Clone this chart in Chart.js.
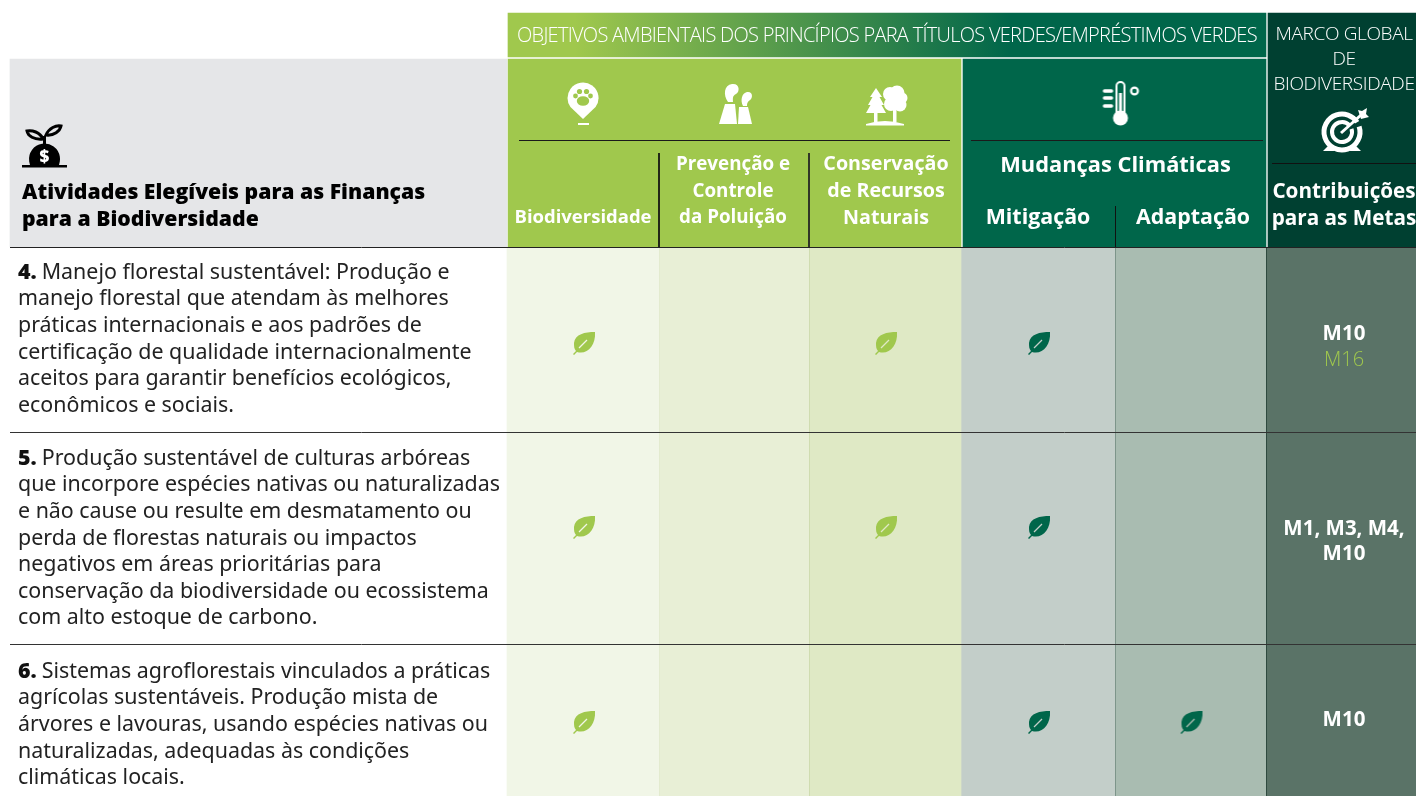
<!DOCTYPE html>
<html>
<head>
<meta charset="utf-8">
<title>Atividades Elegíveis</title>
<script src="https://cdn.jsdelivr.net/npm/chart.js@4"></script>
<style>
  body { margin: 0; background: #fff; }
  canvas { display: block; }
</style>
</head>
<body>
<canvas id="chart1" width="1416" height="796"></canvas>
<script>
// table content
const bandTitle = 'OBJETIVOS AMBIENTAIS DOS PRINCÍPIOS PARA TÍTULOS VERDES/EMPRÉSTIMOS VERDES';
const gbfTitle = ['MARCO GLOBAL', 'DE', 'BIODIVERSIDADE'];
const mainTitle = ['Atividades Elegíveis para as Finanças', 'para a Biodiversidade'];
const columnTitles = [
  ['Biodiversidade'],
  ['Prevenção e', 'Controle', 'da Poluição'],
  ['Conservação', 'de Recursos', 'Naturais'],
  ['Mitigação'],
  ['Adaptação']
];
const climateTitle = 'Mudanças Climáticas';
const goalsTitle = ['Contribuições', 'para as Metas'];
const rowNumbers = ['4.', '5.', '6.'];
const rowTexts = [
  ['Manejo florestal sustentável: Produção e',
   'manejo florestal que atendam às melhores',
   'práticas internacionais e aos padrões de',
   'certificação de qualidade internacionalmente',
   'aceitos para garantir benefícios ecológicos,',
   'econômicos e sociais.'],
  ['Produção sustentável de culturas arbóreas',
   'que incorpore espécies nativas ou naturalizadas',
   'e não cause ou resulte em desmatamento ou',
   'perda de florestas naturais ou impactos',
   'negativos em áreas prioritárias para',
   'conservação da biodiversidade ou ecossistema',
   'com alto estoque de carbono.'],
  ['Sistemas agroflorestais vinculados a práticas',
   'agrícolas sustentáveis. Produção mista de',
   'árvores e lavouras, usando espécies nativas ou',
   'naturalizadas, adequadas às condições',
   'climáticas locais.']
];
// 1 = leaf shown, one list per row, one entry per objective column
const leafMarks = [
  [1, 0, 1, 1, 0],
  [1, 0, 1, 1, 0],
  [1, 0, 0, 1, 1]
];
const goalsMain = [['M10'], ['M1, M3, M4,', 'M10'], ['M10']];
const goalsSecondary = [['M16'], [], []];

// layout of the grid, on the axes
const columnEdges = [507, 659, 809, 961, 1115, 1266, 1416];
const rowEdges = [248, 432, 644, 796];
const leafRowY = [343, 527, 722];
const rowTextTop = [272.5, 458.5, 671.5];
const LINE_H = 26.65;

// colours
const LIME = '#a0c84d', GREEN = '#00664a', DEEP = '#004031';
const bodyColors = ['#f1f6e7', '#e8efd6', '#dfe9c5', '#c3cec9', '#a9bcb1', '#5a7367'];
const leafColors = [LIME, LIME, LIME, GREEN, GREEN];

function makeIcon(w, h, draw) {
  const c = document.createElement('canvas');
  c.width = w; c.height = h;
  draw(c.getContext('2d'));
  return c;
}

function leafIcon(color) {
  return makeIcon(26, 26, g => {
    g.fillStyle = color;
    g.beginPath();
    g.moveTo(24, 2);
    g.bezierCurveTo(14, 2, 4, 4, 3, 13);
    g.bezierCurveTo(3, 16, 3, 19, 5, 21);
    g.lineTo(2, 24);
    g.lineTo(3, 25);
    g.lineTo(6, 22);
    g.bezierCurveTo(16, 25, 25, 16, 24, 2);
    g.fill();
    g.globalCompositeOperation = 'destination-out';
    g.lineWidth = 1.2;
    g.beginPath();
    g.moveTo(8, 18);
    g.lineTo(16, 10);
    g.stroke();
  });
}

const pawPin = makeIcon(36, 46, g => {
  g.fillStyle = '#fff';
  g.beginPath();
  g.arc(18, 17, 15.5, 0.2 * Math.PI, 0.8 * Math.PI, true);
  g.lineTo(18, 38);
  g.closePath();
  g.fill();
  g.fillRect(13, 42, 11, 2);
  g.fillStyle = LIME;
  [[10.5, 15, 2.4], [14.5, 10.5, 2.6], [21.5, 10.5, 2.6], [25.5, 15, 2.4]].forEach(p => {
    g.beginPath(); g.arc(p[0], p[1], p[2], 0, 7); g.fill();
  });
  g.beginPath(); g.ellipse(18, 20, 6.2, 4.8, 0, 0, 7); g.fill();
});

const towers = makeIcon(36, 44, g => {
  g.fillStyle = '#fff';
  const poly = pts => { g.beginPath(); pts.forEach((p, i) => i ? g.lineTo(p[0], p[1]) : g.moveTo(p[0], p[1])); g.closePath(); g.fill(); };
  poly([[2, 41], [8, 21], [18, 21], [20, 41]]);
  poly([[21, 41], [22, 24], [31, 24], [35, 41]]);
  g.beginPath();
  g.moveTo(11, 19); g.bezierCurveTo(6, 12, 7, 2, 15, 1);
  g.bezierCurveTo(23, 0, 23, 9, 19, 11); g.bezierCurveTo(15, 13, 16, 16, 16, 19);
  g.fill();
  g.beginPath();
  g.moveTo(26, 23); g.bezierCurveTo(23, 17, 25, 10, 30, 9);
  g.bezierCurveTo(36, 8, 36, 15, 33, 17); g.bezierCurveTo(30, 19, 30, 21, 30, 23);
  g.fill();
});

const trees = makeIcon(44, 42, g => {
  g.fillStyle = '#fff';
  const poly = pts => { g.beginPath(); pts.forEach((p, i) => i ? g.lineTo(p[0], p[1]) : g.moveTo(p[0], p[1])); g.closePath(); g.fill(); };
  poly([[12, 4], [18, 13], [15.5, 13], [20, 21], [17.5, 21], [22, 29], [2, 29], [6.5, 21], [4, 21], [8.5, 13], [6, 13]]);
  g.fillRect(10, 29, 3.5, 9);
  [[26, 10, 7], [33, 9, 7.5], [38, 14, 5.5], [36, 21, 6.5], [27, 20, 7]].forEach(p => {
    g.beginPath(); g.arc(p[0], p[1], p[2], 0, 7); g.fill();
  });
  g.fillRect(29, 24, 3.5, 14);
  g.beginPath();
  g.moveTo(2, 40); g.quadraticCurveTo(21, 34, 40, 40); g.lineTo(40, 41.5); g.lineTo(2, 41.5);
  g.fill();
});

const thermo = makeIcon(40, 48, g => {
  g.fillStyle = '#fff'; g.strokeStyle = '#fff';
  g.lineCap = 'round';
  g.lineWidth = 3.4;
  [10, 17, 25].forEach(y => { g.beginPath(); g.moveTo(4, y); g.lineTo(11, y); g.stroke(); });
  g.lineWidth = 2;
  g.beginPath();
  g.moveTo(16, 34); g.lineTo(16, 5); g.arc(20, 5, 4, Math.PI, 0); g.lineTo(24, 34);
  g.stroke();
  g.fillRect(18.5, 12, 3, 24);
  g.beginPath(); g.arc(20, 37, 7.5, 0, 7); g.fill();
  g.lineWidth = 2.2;
  g.beginPath(); g.arc(34, 10, 3.4, 0, 7); g.stroke();
});

const target = makeIcon(56, 52, g => {
  g.strokeStyle = '#fff'; g.fillStyle = '#fff';
  const cx = 27, cy = 28;
  g.lineWidth = 5;
  g.beginPath(); g.arc(cx, cy, 18, -0.1 * Math.PI, 1.85 * Math.PI - 0.1); g.stroke();
  g.lineWidth = 4;
  g.beginPath(); g.arc(cx, cy, 10, -0.1 * Math.PI, 1.8 * Math.PI - 0.1); g.stroke();
  g.lineWidth = 3;
  g.beginPath(); g.moveTo(cx - 1, cy + 1); g.lineTo(cx + 19, cy - 17); g.stroke();
  g.beginPath(); g.moveTo(cx + 16, cy - 22); g.lineTo(cx + 19, cy - 13); g.lineTo(cx + 27, cy - 15); g.lineTo(cx + 24, cy - 18); g.lineTo(cx + 25, cy - 24); g.lineTo(cx + 20, cy - 21); g.closePath(); g.fill();
  g.beginPath(); g.moveTo(13, 42); g.lineTo(20, 47); g.lineTo(8, 47); g.closePath(); g.fill();
  g.beginPath(); g.moveTo(41, 42); g.lineTo(34, 47); g.lineTo(46, 47); g.closePath(); g.fill();
});

const seedling = makeIcon(50, 48, g => {
  g.strokeStyle = '#000'; g.fillStyle = '#000';
  g.fillRect(2, 44, 45, 2.5);
  g.beginPath(); g.arc(24.5, 38, 15.5, Math.PI * 0.95, Math.PI * 0.05); g.lineTo(39, 44); g.lineTo(10, 44); g.fill();
  g.lineWidth = 3;
  g.beginPath(); g.moveTo(24.5, 27); g.lineTo(24.5, 15); g.stroke();
  g.beginPath(); g.moveTo(23, 18); g.bezierCurveTo(20, 11, 12, 9, 7, 10); g.bezierCurveTo(8, 15, 14, 19, 23, 18); g.closePath(); g.stroke();
  g.beginPath(); g.moveTo(26, 14); g.bezierCurveTo(29, 7, 36, 4, 41, 5); g.bezierCurveTo(40, 10, 34, 15, 26, 14); g.closePath(); g.stroke();
  g.fillStyle = '#fff';
  g.font = '800 17px "Open Sans"';
  g.textAlign = 'center'; g.textBaseline = 'middle';
  g.fillText('$', 24.5, 36);
});

// bar spanning two column edges, floating between two rows edges
function block(x0, x1, y0, y1, color) {
  return {
    type: 'bar', order: 3, grouped: false, borderWidth: 0,
    barThickness: x1 - x0, backgroundColor: color,
    data: [{ x: (x0 + x1) / 2, y: [y0, y1] }]
  };
}

function rule(x0, y0, x1, y1, color, width) {
  return {
    type: 'scatter', order: 2, showLine: true, pointRadius: 0,
    borderColor: color, borderWidth: width || 1,
    data: [{ x: x0, y: y0 }, { x: x1, y: y1 }]
  };
}

const bodyBlocks = bodyColors.map((color, c) =>
  block(columnEdges[c], columnEdges[c + 1], rowEdges[0], rowEdges[rowEdges.length - 1], color));

const leafPoints = [];
const leafStyles = [];
leafMarks.forEach((row, r) => row.forEach((on, c) => {
  if (!on) return;
  leafPoints.push({ x: (columnEdges[c] + columnEdges[c + 1]) / 2 + 1, y: leafRowY[r] });
  leafStyles.push(leafIcon(leafColors[c]));
}));

const iconPoints = [
  { x: 583, y: 104 }, { x: 735, y: 105 }, { x: 886, y: 105 },
  { x: 1120.5, y: 105 }, { x: 1343, y: 130 }, { x: 45, y: 145 }
];
const iconStyles = [pawPin, towers, trees, thermo, target, seedling];

const tableText = {
  id: 'tableText',
  afterDatasetsDraw(chart) {
    const g = chart.ctx, sx = chart.scales.x, sy = chart.scales.y;
    const put = (str, x, y, font, color, align, spacing) => {
      g.font = font;
      g.fillStyle = color;
      g.textAlign = align || 'center';
      g.textBaseline = 'middle';
      g.letterSpacing = (spacing || 0) + 'px';
      g.fillText(str, sx.getPixelForValue(x), sy.getPixelForValue(y));
    };
    const SANS = '"Open Sans"';
    const lightF = s => '300 ' + s + 'px ' + SANS;
    const boldF = s => '700 ' + s + 'px ' + SANS;
    const bodyF = '400 21.4px "Noto Sans"';

    put(bandTitle, 517, 36.5, lightF(20), '#fff', 'left', -0.72);
    gbfTitle.forEach((t, i) => put(t, 1344, 35 + i * 25, lightF(19), '#fff', 'center', -0.35));

    mainTitle.forEach((t, i) => put(t, 22, 193 + i * 27, '800 21.2px ' + SANS, '#000', 'left'));

    const colCenter = [583, 733, 886, 1038, 1193];
    const colSize = [18.5, 18.8, 19.7, 21.4, 21.4];
    const colBottom = 218;
    columnTitles.forEach((lines, c) => {
      lines.forEach((t, i) => put(t, colCenter[c], colBottom - (lines.length - 1 - i) * 26.7, boldF(colSize[c]), '#fff'));
    });
    put(climateTitle, 1115.5, 165.5, boldF(21.85), '#fff');
    goalsTitle.forEach((t, i) => put(t, 1344, 192.5 + i * 27, boldF(20.7), '#fff'));

    rowTexts.forEach((lines, r) => {
      lines.forEach((t, i) => {
        const y = rowTextTop[r] + i * LINE_H;
        if (i === 0) {
          put(rowNumbers[r], 18, y, '900 21.4px "Noto Sans"', '#111', 'left');
          const numW = g.measureText(rowNumbers[r]).width;
          put(t, 18 + numW + 5, y, bodyF, '#222', 'left');
        } else {
          put(t, 18, y, bodyF, '#222', 'left');
        }
      });
    });

    const goalY = [334, 529, 720];
    goalsMain.forEach((lines, r) => {
      lines.forEach((t, i) => put(t, 1344, goalY[r] + i * 25.5, boldF(20.5), '#fff'));
      goalsSecondary[r].forEach((t, i) => put(t, 1344, goalY[r] + (lines.length + i) * 26, lightF(20), LIME));
    });
  }
};

new Chart(document.getElementById('chart1').getContext('2d'), {
  type: 'scatter',
  data: {
    datasets: [
      { order: 0, data: iconPoints, pointStyle: iconStyles, pointRadius: 10 },
      { order: 1, data: leafPoints, pointStyle: leafStyles, pointRadius: 10 },

      // separators
      rule(10, 247.5, 1416, 247.5, '#222'),
      rule(10, 432.5, 1416, 432.5, '#333'),
      rule(10, 644.5, 1416, 644.5, '#333'),
      rule(519, 140.5, 950, 140.5, '#1a1a1a'),
      rule(971, 140.5, 1263, 140.5, '#1a1a1a'),
      rule(1272, 163.5, 1416, 163.5, '#111'),
      rule(659, 153, 659, 247, '#111'),
      rule(809, 153, 809, 247, '#222'),
      rule(1115.5, 206, 1115.5, 247, '#111'),
      rule(659.5, 248, 659.5, 796, '#e3ebcf'),
      rule(809.5, 248, 809.5, 796, '#cfdcb0'),
      rule(1115.5, 248, 1115.5, 796, '#7d958a'),
      rule(1266.5, 248, 1266.5, 796, '#2f4a3f'),

      // header blocks
      block(10, 507, 59, 247, '#e5e6e8'),
      block(508, 961, 59, 247, LIME),
      block(963, 1266, 59, 247, GREEN),
      block(1268, 1416, 13, 247, DEEP),
      {
        ...block(508, 1266, 13, 57, GREEN),
        backgroundColor: c => {
          const grad = c.chart.ctx.createLinearGradient(575, 0, 1010, 0);
          grad.addColorStop(0, LIME);
          grad.addColorStop(1, GREEN);
          return grad;
        }
      },
      ...bodyBlocks
    ]
  },
  options: {
    responsive: false,
    animation: false,
    layout: { padding: 0, autoPadding: false },
    plugins: { legend: { display: false }, tooltip: { enabled: false } },
    scales: {
      x: { type: 'linear', display: false, min: 0, max: 1416, offset: false },
      y: { type: 'linear', display: false, min: 0, max: 796, reverse: true }
    }
  },
  plugins: [tableText]
});
</script>
</body>
</html>
